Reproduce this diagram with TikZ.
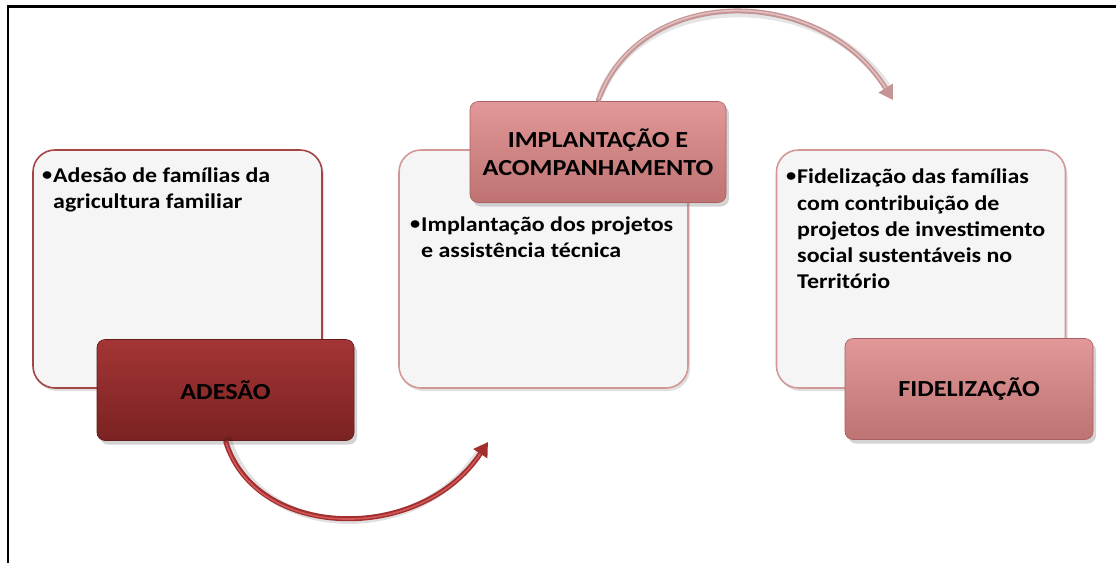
\documentclass[tikz,border=0pt]{standalone}
\usepackage{fontspec}
\setmainfont{Carlito}[FakeStretch=1.14]
\usetikzlibrary{arrows.meta,shadows}
\definecolor{boxfill}{HTML}{F5F5F5}
\definecolor{darkedge}{HTML}{A34545}
\definecolor{pinkedge}{HTML}{D29898}
\definecolor{adtop}{HTML}{A33535}
\definecolor{adbot}{HTML}{7C2222}
\definecolor{pktop}{HTML}{E29898}
\definecolor{pkbot}{HTML}{BE7272}
\definecolor{pkline}{HTML}{A86060}
\definecolor{arrdark}{HTML}{A32E2E}
\definecolor{arrlight}{HTML}{D05858}
\definecolor{arrpink}{HTML}{C59595}
\definecolor{arrpinkhi}{HTML}{E2C0C0}
\newcommand{\bul}{\makebox[11pt][l]{\raisebox{2pt}{\scalebox{0.85}{•}}}}
\begin{document}
\begin{tikzpicture}[x=1pt,y=-1pt,
  infobox/.style={draw=#1,line width=1.6pt,fill=boxfill,rounded corners=22pt,
    minimum width=289pt,minimum height=238pt,inner sep=0pt,
    drop shadow={shadow xshift=2pt,shadow yshift=-3pt,opacity=0.25}},
  darktitle/.style={draw=adbot!80!black,line width=0.6pt,top color=adtop,bottom color=adbot,
    rounded corners=8pt,minimum width=257pt,minimum height=101pt,inner sep=0pt,
    font=\fontsize{23}{27.5}\selectfont\bfseries,align=center,
    drop shadow={shadow xshift=3pt,shadow yshift=-4pt,opacity=0.35}},
  pinktitle/.style={draw=pkline,line width=0.6pt,top color=pktop,bottom color=pkbot,
    rounded corners=8pt,minimum height=101pt,inner sep=0pt,
    font=\fontsize{23}{27.5}\selectfont\bfseries,align=center,
    drop shadow={shadow xshift=3pt,shadow yshift=-4pt,opacity=0.35}},
  bodytext/.style={anchor=north west,inner sep=0pt,align=left,
    font=\fontsize{21}{25.5}\selectfont\bfseries},
  flowdark/.style={draw=arrdark,line width=5pt,
    -{Triangle[length=14pt,width=16pt]}},
  flowpink/.style={draw=arrpink,line width=5pt,
    -{Triangle[length=14pt,width=16pt]}},
]
\useasboundingbox (0,0) rectangle (1116,563);
% frame (top and left only)
\draw[line width=2.2pt,black] (8,563) -- (8,6.5) -- (1116,6.5);

% boxes
\node[infobox=darkedge] (b1) at (177.5,269) {};
\node[infobox=pinkedge] (b2) at (543.5,269) {};
\node[infobox=pinkedge] (b3) at (921,269) {};

\node[bodytext] (t1) at (42,168) {\bul Adesão de famílias da\\\hspace*{11pt}agricultura familiar};
\node[bodytext] (t2) at (410,217) {\bul Implantação dos projetos\\\hspace*{11pt}e assistência técnica};
\node[bodytext,font=\fontsize{21}{26.2}\selectfont\bfseries] (t3) at (786,169) {\bul Fidelização das famílias\\\hspace*{11pt}com contribuição de\\\hspace*{11pt}projetos de investimento\\\hspace*{11pt}social sustentáveis no\\\hspace*{11pt}Território};

% title boxes
\node[darktitle] (adesao) at (225.5,390) {ADESÃO};
\node[pinktitle,minimum width=256pt] (impl) at (598,152) {IMPLANTAÇÃO E\\ACOMPANHAMENTO};
\node[pinktitle,minimum width=248pt] (fidel) at (969,389) {FIDELIZAÇÃO};

% arrows
\coordinate (e1) at (488,442);
\coordinate (e2) at (893,100);
\draw[line width=7pt,black,opacity=0.12,shorten >=10pt] ([xshift=2pt,yshift=4pt]adesao.south) .. controls (257,544) and (422,549) .. ([yshift=4pt]e1);
\draw[flowdark] (adesao.south) .. controls (255,540) and (420,545) .. (e1);
\draw[draw=arrlight,line width=1.6pt,shorten >=14pt,shorten <=2pt] (adesao.south) .. controls (255,540) and (420,545) .. (e1);

\draw[line width=7pt,black,opacity=0.10,shorten >=10pt] ([xshift=2pt,yshift=5pt]impl.north) .. controls (642,-12) and (822,-12) .. ([yshift=5pt]e2);
\draw[flowpink] (impl.north) .. controls (640,-17) and (820,-17) .. (e2);
\draw[draw=arrpinkhi,line width=1.6pt,shorten >=14pt,shorten <=2pt] (impl.north) .. controls (640,-17) and (820,-17) .. (e2);
\end{tikzpicture}
\end{document}
